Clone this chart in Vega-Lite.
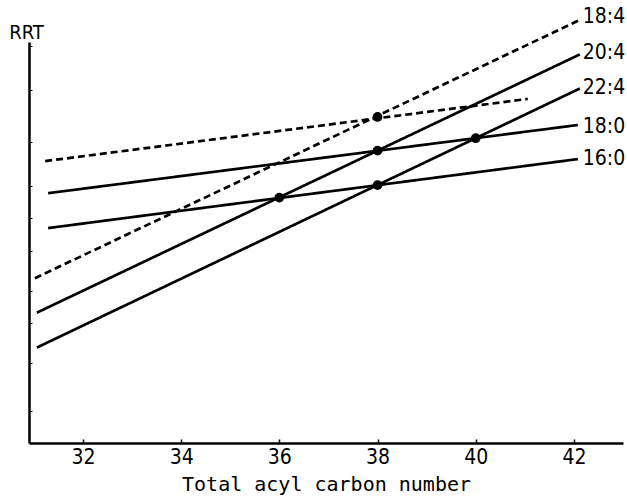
{
  "$schema": "https://vega.github.io/schema/vega-lite/v6.json",
  "width": 594,
  "height": 401,
  "autosize": {"type": "none"},
  "padding": {"left": 29, "top": 42, "right": 4, "bottom": 54},
  "background": "white",
  "config": {"view": {"stroke": null}},
  "datasets": {
    "lines": [
      {"series": "18:4 a", "fa": "18:4", "x": 31.02, "y": 41.1},
      {"series": "18:4 a", "fa": "18:4", "x": 42.12, "y": 105.5},
      {"series": "18:4 b", "fa": "18:4", "x": 31.23, "y": 70.3},
      {"series": "18:4 b", "fa": "18:4", "x": 41.06, "y": 85.8},
      {"series": "20:4", "fa": "20:4", "x": 31.06, "y": 32.5},
      {"series": "20:4", "fa": "20:4", "x": 42.12, "y": 96.9},
      {"series": "22:4", "fa": "22:4", "x": 31.06, "y": 23.8},
      {"series": "22:4", "fa": "22:4", "x": 42.12, "y": 88.4},
      {"series": "18:0", "fa": "18:0", "x": 31.29, "y": 62.3},
      {"series": "18:0", "fa": "18:0", "x": 42.08, "y": 79.3},
      {"series": "16:0", "fa": "16:0", "x": 31.29, "y": 53.6},
      {"series": "16:0", "fa": "16:0", "x": 42.08, "y": 70.8}
    ],
    "points": [
      {"x": 36, "y": 61.2},
      {"x": 38, "y": 81.3},
      {"x": 38, "y": 72.9},
      {"x": 38, "y": 64.3},
      {"x": 40, "y": 76.0}
    ],
    "labels": [
      {"label": "18:4", "x": 42.18, "y": 106.2},
      {"label": "20:4", "x": 42.18, "y": 97.3},
      {"label": "22:4", "x": 42.18, "y": 88.5},
      {"label": "18:0", "x": 42.18, "y": 78.8},
      {"label": "16:0", "x": 42.18, "y": 70.8}
    ]
  },
  "layer": [
    {
      "data": {"name": "lines"},
      "mark": {"type": "line", "color": "black", "strokeWidth": 2.7, "strokeCap": "butt"},
      "encoding": {
        "x": {
          "field": "x", "type": "quantitative",
          "scale": {"domain": [30.9, 43.0], "nice": false, "zero": false},
          "axis": {
            "values": [32, 34, 36, 38, 40, 42],
            "grid": false,
            "domainColor": "black", "domainWidth": 2.5,
            "tickColor": "black", "tickSize": -4, "tickWidth": 1.5,
            "labelFont": "DejaVu Sans Condensed",
            "labelFontSize": 21, "labelColor": "black", "labelPadding": 7,
            "title": "Total acyl carbon number",
            "titleFont": "DejaVu Sans Mono", "titleFontSize": 20, "titleFontWeight": "normal",
            "titleColor": "black", "titleY": 47, "titleBaseline": "alphabetic"
          }
        },
        "y": {
          "field": "y", "type": "quantitative",
          "scale": {"domain": [0, 100], "nice": false, "zero": false},
          "axis": {
            "values": [8, 20, 30, 38, 48, 56, 64, 75, 88, 99],
            "labels": false,
            "grid": false,
            "domainColor": "black", "domainWidth": 2.5,
            "tickColor": "black", "tickSize": -3, "tickWidth": 1,
            "title": "RRT", "titleAngle": 0, "titleAlign": "center", "titleBaseline": "alphabetic",
            "titleX": -3, "titleY": -4,
            "titleFont": "DejaVu Sans Condensed",
            "titleFontSize": 20, "titleFontWeight": "normal", "titleColor": "black"
          }
        },
        "detail": {"field": "series"},
        "strokeDash": {
          "field": "fa", "type": "nominal",
          "scale": {"domain": ["18:4", "20:4", "22:4", "18:0", "16:0"], "range": [[7, 4], [1, 0], [1, 0], [1, 0], [1, 0]]},
          "legend": null
        }
      }
    },
    {
      "data": {"name": "points"},
      "mark": {"type": "point", "filled": true, "color": "black", "size": 95, "opacity": 1},
      "encoding": {
        "x": {"field": "x", "type": "quantitative"},
        "y": {"field": "y", "type": "quantitative"}
      }
    },
    {
      "data": {"name": "labels"},
      "mark": {"type": "text", "align": "left", "baseline": "middle", "fontSize": 21, "color": "black",
               "font": "DejaVu Sans Condensed"},
      "encoding": {
        "x": {"field": "x", "type": "quantitative"},
        "y": {"field": "y", "type": "quantitative"},
        "text": {"field": "label"}
      }
    }
  ]
}
